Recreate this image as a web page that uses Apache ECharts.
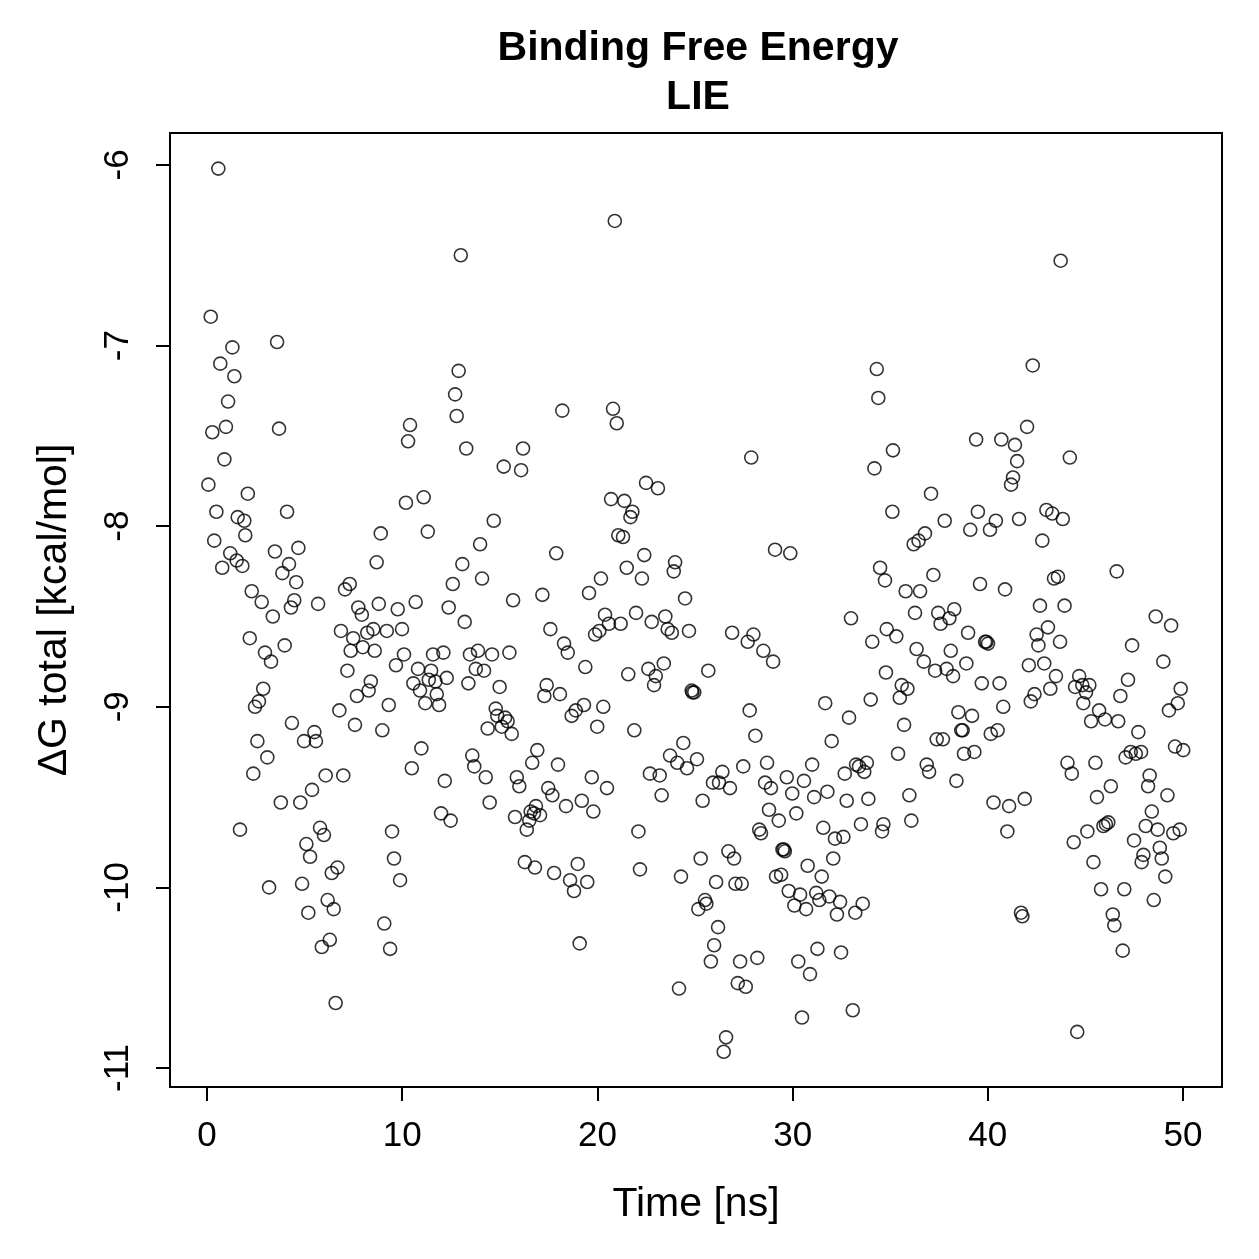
<!DOCTYPE html>
<html>
<head>
<meta charset="utf-8">
<script src="https://cdn.jsdelivr.net/npm/echarts@6/dist/echarts.min.js"></script>
<style>html,body{margin:0;padding:0;background:#fff;}#chart{width:1259px;height:1259px;}</style>
</head>
<body>
<div id="chart"></div>
<script>
const titleText = 'Binding Free Energy\nLIE';
const xLabel = 'Time [ns]';
const yLabel = 'ΔG total [kcal/mol]';
const xTicks = [0, 10, 20, 30, 40, 50];
const yTicks = [-11, -10, -9, -8, -7, -6];

const time = [
0.07,0.19,0.27,0.37,0.48,0.58,0.68,0.78,0.89,0.97,1.08,1.19,1.30,1.40,1.52,1.57,1.69,1.81,1.91,1.96,
2.09,2.19,2.29,2.37,2.46,2.58,2.66,2.80,2.88,2.97,3.09,3.18,3.28,3.37,3.48,3.59,3.69,3.78,3.86,3.98,
4.10,4.20,4.30,4.35,4.47,4.57,4.68,4.78,4.87,4.97,5.09,5.19,5.28,5.38,5.50,5.58,5.69,5.79,5.88,5.99,
6.08,6.18,6.29,6.39,6.49,6.59,6.68,6.78,6.86,6.98,7.07,7.19,7.31,7.36,7.49,7.58,7.68,7.75,7.93,7.98,
8.21,8.28,8.39,8.52,8.59,8.69,8.80,8.90,8.98,9.08,9.21,9.31,9.38,9.48,9.58,9.68,9.77,9.89,9.99,10.09,
10.19,10.30,10.40,10.49,10.57,10.69,10.81,10.91,10.98,11.10,11.18,11.31,11.36,11.48,11.58,11.70,11.77,11.89,11.99,12.11,
12.18,12.28,12.38,12.48,12.59,12.71,12.79,12.89,13.00,13.08,13.20,13.28,13.39,13.47,13.59,13.69,13.77,13.88,13.99,14.09,
14.19,14.28,14.38,14.48,14.60,14.69,14.79,14.87,14.99,15.10,15.20,15.27,15.40,15.49,15.61,15.68,15.78,15.87,16.00,16.09,
16.19,16.28,16.38,16.51,16.58,16.66,16.75,16.80,16.85,16.92,17.06,17.18,17.28,17.40,
17.48,17.59,17.69,17.78,17.89,17.98,18.08,18.20,18.29,18.39,18.48,18.60,18.68,18.80,18.89,18.99,19.09,19.20,19.31,19.38,
19.48,19.57,19.71,19.79,19.88,19.99,20.10,20.18,20.30,20.39,20.49,20.59,20.70,20.80,20.89,20.99,21.07,21.19,21.31,21.38,
21.50,21.58,21.69,21.79,21.89,21.98,22.10,22.18,22.28,22.40,22.49,22.61,22.69,22.78,22.90,22.99,23.10,23.19,23.29,23.40,
23.48,23.60,23.72,23.81,23.91,23.98,24.09,24.18,24.28,24.40,24.49,24.59,24.69,24.83,24.87,24.96,25.10,25.17,25.29,25.39,
25.51,25.58,25.68,25.81,25.92,25.98,26.08,26.18,
26.23,26.40,26.47,26.59,26.71,26.79,26.90,27.00,27.07,27.19,27.31,27.39,27.47,27.60,27.70,27.80,27.88,27.99,28.09,28.19,
28.29,28.38,28.50,28.59,28.69,28.79,28.89,29.00,29.10,29.15,29.29,29.41,29.48,29.55,29.60,29.70,29.80,29.88,29.98,30.09,
30.19,30.29,30.38,30.48,30.58,30.69,30.77,30.89,31.00,31.10,31.21,31.27,31.37,31.49,31.57,31.67,31.78,31.88,32.00,32.08,
32.17,32.27,32.43,32.48,32.60,32.67,32.77,32.89,32.99,33.08,33.21,33.25,33.40,33.50,33.59,33.67,33.80,33.88,34.00,34.08,
34.19,34.31,34.39,34.48,34.58,34.65,34.73,34.78,34.82,
35.11,35.14,35.31,35.40,35.49,35.59,35.71,35.79,35.88,35.98,36.08,36.20,36.27,36.35,36.45,36.53,36.72,36.78,36.87,36.99,
37.09,37.21,37.30,37.38,37.46,37.58,37.70,37.79,37.89,38.03,38.10,38.22,38.28,38.39,38.49,38.64,38.71,38.78,38.90,38.99,
39.10,39.19,39.31,39.40,39.49,39.60,39.69,39.86,39.93,40.01,40.11,40.15,40.29,40.41,40.50,40.60,40.69,40.79,40.88,41.00,
41.09,41.19,41.29,41.39,41.50,41.60,41.70,41.77,41.89,42.01,42.10,42.20,42.30,42.39,42.50,42.59,42.67,42.79,42.89,43.00,
43.08,43.20,43.30,43.39,43.49,43.59,43.70,43.73,43.84,43.93,
44.08,44.20,44.30,44.40,44.47,44.58,44.68,44.84,44.89,45.03,45.10,45.20,45.29,45.41,45.51,45.59,45.70,45.80,45.92,46.00,
46.05,46.17,46.30,46.40,46.48,46.60,46.68,46.79,46.91,46.99,47.06,47.18,47.32,47.39,47.49,47.58,47.71,47.85,47.88,47.97,
48.09,48.21,48.29,48.40,48.50,48.60,48.70,48.81,48.91,48.99,49.09,49.20,49.28,49.39,49.50,49.59,49.73,49.83,49.88,50.01
];

const dg = [
-7.77,-6.84,-7.48,-8.08,-7.92,-6.02,-7.10,-8.23,-7.63,-7.45,-7.31,-8.15,-7.01,-7.17,-8.19,-7.95,-9.68,-8.22,-7.97,-8.05,
-7.82,-8.62,-8.36,-9.37,-9.00,-9.19,-8.97,-8.42,-8.90,-8.70,-9.28,-10.00,-8.75,-8.50,-8.14,-6.98,-7.46,-9.53,-8.26,-8.66,
-7.92,-8.21,-8.45,-9.09,-8.41,-8.31,-8.12,-9.53,-9.98,-9.19,-9.76,-10.14,-9.83,-9.46,-9.14,-9.19,-8.43,-9.67,-10.33,-9.71,
-9.38,-10.07,-10.29,-9.92,-10.12,-10.64,-9.89,-9.02,-8.58,-9.38,-8.35,-8.80,-8.32,-8.69,-8.62,-9.10,-8.94,-8.45,-8.49,-8.67,
-8.59,-8.91,-8.86,-8.57,-8.69,-8.20,-8.43,-8.04,-9.13,-10.20,-8.58,-8.99,-10.34,-9.69,-9.84,-8.77,-8.46,-9.96,-8.57,-8.71,
-7.87,-7.53,-7.44,-9.34,-8.87,-8.42,-8.79,-8.91,-9.23,-7.84,-8.98,-8.03,-8.85,-8.80,-8.71,-8.86,-8.93,-8.99,-9.59,-8.70,
-9.41,-8.84,-8.45,-9.63,-8.32,-7.27,-7.39,-7.14,-6.50,-8.21,-8.53,-7.57,-8.87,-8.71,-9.27,-9.33,-8.79,-8.69,-8.10,-8.29,
-8.80,-9.39,-9.12,-9.53,-8.71,-7.97,-9.01,-9.05,-8.89,-9.11,-7.67,-9.06,-9.08,-8.70,-9.15,-8.41,-9.61,-9.39,-9.44,-7.69,
-7.57,-9.86,-9.68,-9.63,-9.58,-9.31,-9.59,-9.89,-9.55,-9.24,-9.60,-8.38,-8.94,-8.88,
-9.45,-8.57,-9.49,-9.92,-8.15,-9.32,-8.93,-7.36,-8.65,-9.55,-8.70,-9.96,-9.05,-10.02,-9.02,-9.87,-10.31,-9.52,-8.99,-8.78,
-9.97,-8.37,-9.39,-9.58,-8.60,-9.11,-8.58,-8.29,-9.00,-8.49,-9.45,-8.54,-7.85,-7.35,-6.31,-7.43,-8.05,-8.54,-8.06,-7.86,
-8.23,-8.82,-7.95,-7.92,-9.13,-8.48,-9.69,-9.90,-8.29,-8.16,-7.76,-8.79,-9.37,-8.53,-8.88,-8.83,-7.79,-9.38,-9.49,-8.76,
-8.50,-8.57,-9.27,-8.59,-8.25,-8.20,-9.31,-10.56,-9.94,-9.20,-8.40,-9.34,-8.58,-8.91,-8.92,-8.92,-9.29,-10.12,-9.84,-9.52,
-10.07,-10.09,-8.80,-10.41,-9.42,-10.32,-9.97,-10.22,
-9.42,-9.36,-10.91,-10.83,-9.80,-9.45,-8.59,-9.84,-9.98,-10.53,-10.41,-9.98,-9.33,-10.55,-8.64,-9.02,-7.62,-8.60,-9.16,-10.39,
-9.68,-9.70,-8.69,-9.42,-9.31,-9.57,-9.45,-8.75,-8.13,-9.94,-9.63,-9.93,-9.79,-9.79,-9.80,-9.39,-10.02,-8.15,-9.48,-10.10,
-9.59,-10.41,-10.04,-10.72,-9.41,-10.12,-9.88,-10.48,-9.32,-9.50,-10.03,-10.34,-10.07,-9.94,-9.67,-8.98,-9.47,-10.05,-9.19,-9.84,
-9.73,-10.15,-10.08,-10.36,-9.72,-9.37,-9.52,-9.06,-8.51,-10.68,-10.14,-9.32,-9.33,-9.65,-10.09,-9.36,-9.31,-9.51,-8.96,-8.64,
-7.68,-7.13,-7.29,-8.23,-9.69,-9.65,-8.30,-8.81,-8.57,
-7.92,-7.58,-8.61,-9.26,-8.95,-8.88,-9.10,-8.36,-8.90,-9.49,-9.63,-8.10,-8.48,-8.68,-8.08,-8.36,-8.75,-8.04,-9.32,-9.36,
-7.82,-8.27,-8.80,-9.18,-8.48,-8.54,-9.18,-7.97,-8.79,-8.51,-8.69,-8.83,-8.46,-9.41,-9.03,-9.13,-9.13,-9.26,-8.76,-8.59,
-8.02,-9.05,-9.25,-7.52,-7.92,-8.32,-8.87,-8.64,-8.64,-8.65,-8.02,-9.15,-9.53,-7.97,-9.13,-8.87,-7.52,-9.00,-8.35,-9.69,
-9.55,-7.77,-7.73,-7.55,-7.64,-7.96,-10.14,-10.16,-9.51,-7.45,-8.77,-8.97,-7.11,-8.93,-8.60,-8.66,-8.44,-8.08,-8.76,-7.91,
-8.56,-8.90,-7.93,-8.29,-8.83,-8.28,-8.64,-6.53,-7.96,-8.44,
-9.31,-7.62,-9.37,-9.75,-8.89,-10.80,-8.83,-8.88,-8.98,-8.92,-9.69,-8.88,-9.08,-9.86,-9.31,-9.50,-9.02,-10.01,-9.66,-9.07,
-9.65,-9.64,-9.44,-10.15,-10.21,-8.25,-9.08,-8.94,-10.35,-10.01,-9.28,-8.85,-9.25,-8.66,-9.74,-9.26,-9.14,-9.25,-9.86,-9.82,
-9.66,-9.44,-9.38,-9.58,-10.07,-8.50,-9.68,-9.78,-9.84,-8.75,-9.94,-9.49,-9.02,-8.55,-9.70,-9.22,-8.98,-9.68,-8.90,-9.24
];

const points = time.map((t, i) => [t, dg[i]]);
const FONT = '"Liberation Sans", Arial, Helvetica, sans-serif';

const chart = echarts.init(document.getElementById('chart'), null, {renderer: 'canvas'});
chart.setOption({
  animation: false,
  backgroundColor: '#ffffff',
  title: {
    text: titleText,
    left: 693,
    top: 19,
    textAlign: 'center',
    textStyle: {fontFamily: FONT, fontSize: 41, fontWeight: 'bold', color: '#000', lineHeight: 49}
  },
  grid: {
    left: 170, right: 37, top: 133, bottom: 172,
    show: true, borderColor: '#000', borderWidth: 2, backgroundColor: 'transparent'
  },
  xAxis: {
    type: 'value',
    min: -1.896, max: 51.996,
    name: xLabel,
    nameLocation: 'middle',
    nameGap: 97,
    nameTextStyle: {fontFamily: FONT, fontSize: 41, color: '#000'},
    axisLine: {show: false, onZero: false},
    splitLine: {show: false},
    axisTick: {show: true, length: 14, customValues: xTicks, lineStyle: {color: '#000', width: 2}},
    axisLabel: {customValues: xTicks, fontFamily: FONT, fontSize: 35, color: '#000', margin: 32}
  },
  yAxis: {
    type: 'value',
    min: -11.105, max: -5.823,
    name: yLabel,
    nameLocation: 'middle',
    nameGap: 95,
    nameRotate: 90,
    nameTextStyle: {fontFamily: FONT, fontSize: 41, color: '#000'},
    axisLine: {show: false, onZero: false},
    splitLine: {show: false},
    axisTick: {show: true, length: 14, customValues: yTicks, lineStyle: {color: '#000', width: 2}},
    axisLabel: {customValues: yTicks, rotate: 90, fontFamily: FONT, fontSize: 35, color: '#000', margin: 34}
  },
  series: [{
    type: 'scatter',
    data: points,
    symbol: 'circle',
    symbolSize: 13,
    itemStyle: {color: 'rgba(0,0,0,0)', borderColor: '#000', borderWidth: 1.6},
    emphasis: {disabled: true},
    silent: true
  }]
});
</script>
</body>
</html>
